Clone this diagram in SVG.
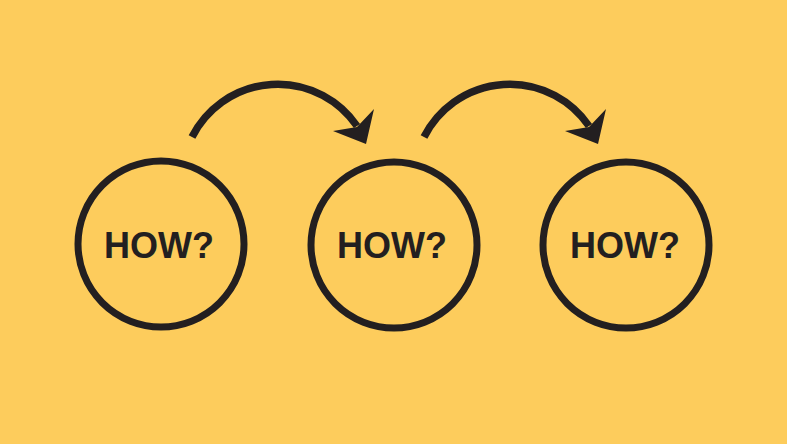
<svg xmlns="http://www.w3.org/2000/svg" width="787" height="444" viewBox="0 0 787 444">
<style>
.ring{fill:none;stroke:#231f20;stroke-width:7}
.lbl{font-family:"Liberation Sans",Arial,sans-serif;font-weight:bold;font-size:36px;fill:#231f20;text-anchor:middle}
.arc{fill:none;stroke:#231f20;stroke-width:7.5}
.head{fill:#231f20}
</style>
<rect width="787" height="444" fill="#fdcc5c"/>
<g id="node1"><circle class="ring" cx="161" cy="244" r="83"/><text class="lbl" x="159" y="258">HOW?</text></g>
<g id="node2"><circle class="ring" cx="394" cy="245" r="83"/><text class="lbl" x="392" y="258">HOW?</text></g>
<g id="node3"><circle class="ring" cx="626" cy="245" r="83"/><text class="lbl" x="625" y="258">HOW?</text></g>
<g id="connectors">
<path class="arc" d="M192,137 A96,96 0 0 1 357,126"/>
<polygon class="head" points="366,144 374,109 357,127 333,131"/>
<path class="arc" d="M424,137 A96,96 0 0 1 589,126"/>
<polygon class="head" points="598,144 606,109 589,127 565,131"/>
</g>
</svg>
